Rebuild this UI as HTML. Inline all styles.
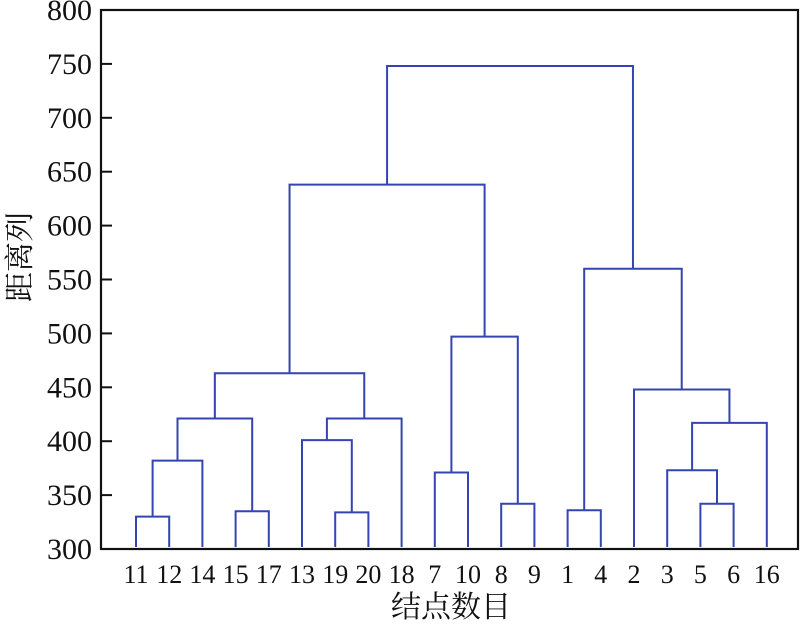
<!DOCTYPE html>
<html><head><meta charset="utf-8"><style>
body{margin:0;background:#fff}
svg text{font-family:"Liberation Serif","Noto Serif CJK SC",serif;fill:#111}
</style></head><body>
<svg id="c" width="800" height="626">
<rect x="101" y="10" width="697" height="539" fill="none" stroke="#111" stroke-width="2.2"/>
<g id="yaxis"></g><g id="xaxis"></g><g id="links"></g>
<text x="30" y="257" font-size="30" text-anchor="middle" transform="rotate(-90 30 257)">距离列</text>
<text x="451" y="617" font-size="30" text-anchor="middle">结点数目</text>
</svg>
<script>
const leaves=["11","12","14","15","17","13","19","20","18","7","10","8","9","1","4","2","3","5","6","16"];
const yTicks=[300,350,400,450,500,550,600,650,700,750,800];
// merges: [leftNode,rightNode,height]; nodes are leaf labels or merge indices "m#"
const merges=[
["11","12",330],["m0","14",382],["15","17",335],["m1","m2",421],
["19","20",334],["13","m4",401],["m5","18",421],["m3","m6",463],
["7","10",371],["8","9",342],["m8","m9",497],["m7","m10",638],
["1","4",336],["5","6",342],["3","m13",373],["m14","16",417],["2","m15",448],["m12","m16",560],["m11","m17",748]];
const NS="http://www.w3.org/2000/svg";
const y=v=>549-(v-300)*1.078;
const x=i=>136+i*33.2;
const ya=document.getElementById('yaxis'),xa=document.getElementById('xaxis'),lk=document.getElementById('links');
function mk(tag,attrs,parent){const e=document.createElementNS(NS,tag);for(const k in attrs)e.setAttribute(k,attrs[k]);parent.appendChild(e);return e;}
yTicks.forEach(t=>{
 const l=mk('line',{x1:101,x2:112,y1:y(t),y2:y(t),stroke:'#111','stroke-width':2},ya);
 
 
 const tx=mk('text',{x:92,y:y(t)+10,'font-size':30,'text-anchor':'end'},ya);tx.textContent=t;
 
 
});
leaves.forEach((s,i)=>{
 const tx=mk('text',{x:x(i),y:583,'font-size':26,'text-anchor':'middle'},xa);tx.textContent=s;
 
 
});
const pos={},ht={};
leaves.forEach((s,i)=>{pos[s]=x(i);ht[s]=300;});
merges.forEach((m,i)=>{
 const [a,b,h]=m;const xa_=pos[a],xb=pos[b];
 const p=mk('path',{d:`M${xa_},${y(ht[a])-(ht[a]==300?2:0)}V${y(h)}H${xb}V${y(ht[b])-(ht[b]==300?2:0)}`,fill:'none',stroke:'#3444b0','stroke-width':2},lk);
 
 
 pos['m'+i]=(xa_+xb)/2;ht['m'+i]=h;
});
</script>
</body></html>
